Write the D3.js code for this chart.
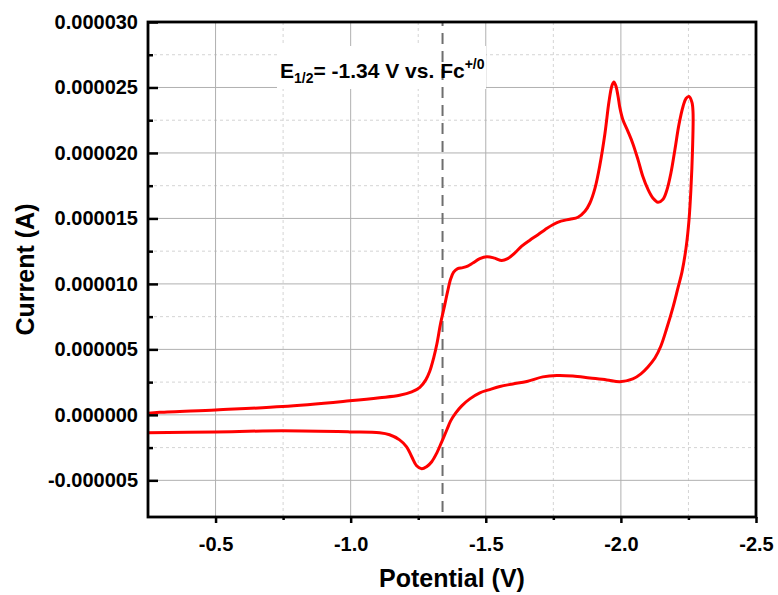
<!DOCTYPE html>
<html>
<head>
<meta charset="utf-8">
<script src="https://cdn.jsdelivr.net/npm/d3@7"></script>
<style>
  body { margin: 0; background: #fff; }
  text { font-family: Arial, "Liberation Sans", sans-serif; font-weight: bold; fill: #000; }
</style>
</head>
<body>
<svg id="chart" width="778" height="595"></svg>
<script>
// forward (cathodic) sweep, -0.25 V -> -2.27 V
var forwardPotential = [-0.25, -0.293, -0.5, -0.748, -0.996, -1.107, -1.181, -1.226, -1.256, -1.278,
  -1.293, -1.307, -1.319, -1.333, -1.348, -1.359, -1.37, -1.381, -1.396, -1.415,
  -1.433, -1.452, -1.478, -1.504, -1.533, -1.559, -1.581, -1.607, -1.633, -1.663,
  -1.693, -1.719, -1.748, -1.778, -1.811, -1.841, -1.867, -1.885, -1.904, -1.922,
  -1.941, -1.956, -1.967, -1.974, -1.981, -1.989, -1.996, -2.007, -2.026, -2.044,
  -2.063, -2.081, -2.1, -2.119, -2.137, -2.156, -2.17, -2.185, -2.2, -2.215,
  -2.23, -2.241, -2.252, -2.263, -2.267];
var forwardCurrent = [0.12e-6, 0.19e-6, 0.38e-6, 0.63e-6, 1.07e-6, 1.30e-6, 1.49e-6, 1.75e-6, 2.10e-6, 2.67e-6,
  3.35e-6, 4.34e-6, 5.41e-6, 7.01e-6, 8.38e-6, 9.45e-6, 10.37e-6, 10.90e-6, 11.17e-6, 11.24e-6,
  11.36e-6, 11.59e-6, 11.93e-6, 12.08e-6, 11.97e-6, 11.78e-6, 11.93e-6, 12.35e-6, 12.88e-6, 13.34e-6,
  13.76e-6, 14.14e-6, 14.52e-6, 14.79e-6, 14.94e-6, 15.09e-6, 15.55e-6, 16.16e-6, 17.30e-6, 19.05e-6,
  21.49e-6, 23.93e-6, 25.15e-6, 25.42e-6, 25.15e-6, 24.39e-6, 23.48e-6, 22.56e-6, 21.65e-6, 20.73e-6,
  19.51e-6, 18.22e-6, 17.23e-6, 16.54e-6, 16.23e-6, 16.46e-6, 17.15e-6, 18.45e-6, 20.27e-6, 22.18e-6,
  23.55e-6, 24.16e-6, 24.31e-6, 23.86e-6, 23.09e-6];

// reverse (anodic) sweep, back to -0.25 V
var reversePotential = [-2.267, -2.265, -2.259, -2.252, -2.241, -2.226, -2.211, -2.193, -2.17, -2.148,
  -2.126, -2.1, -2.074, -2.044, -1.996, -1.948, -1.885, -1.822, -1.763, -1.711,
  -1.652, -1.6, -1.552, -1.511, -1.478, -1.441, -1.411, -1.389, -1.37, -1.356,
  -1.337, -1.319, -1.3, -1.281, -1.263, -1.244, -1.226, -1.207, -1.181, -1.144,
  -1.107, -0.996, -0.748, -0.5, -0.25];
var reverseCurrent = [23.09e-6, 20.20e-6, 17.15e-6, 14.86e-6, 12.73e-6, 10.90e-6, 9.68e-6, 8.23e-6, 6.63e-6, 5.26e-6,
  4.34e-6, 3.66e-6, 3.13e-6, 2.74e-6, 2.52e-6, 2.67e-6, 2.82e-6, 2.97e-6, 3.01e-6, 2.90e-6,
  2.55e-6, 2.36e-6, 2.17e-6, 1.91e-6, 1.68e-6, 1.22e-6, 0.69e-6, 0.15e-6, -0.46e-6, -1.14e-6,
  -2.06e-6, -2.90e-6, -3.58e-6, -3.96e-6, -4.12e-6, -3.89e-6, -3.20e-6, -2.44e-6, -1.91e-6, -1.52e-6,
  -1.37e-6, -1.30e-6, -1.22e-6, -1.30e-6, -1.37e-6];

var xTicks = [-0.5, -1.0, -1.5, -2.0, -2.5];
var xMinor = [-0.75, -1.25, -1.75, -2.25];
var yTicks = [-0.000005, 0, 0.000005, 0.00001, 0.000015, 0.00002, 0.000025, 0.00003];
var yMinor = [-0.0000025, 0.0000025, 0.0000075, 0.0000125, 0.0000175, 0.0000225, 0.0000275];
var halfWave = -1.34;

var svg = d3.select("#chart");

var margins = { top: 22, bottom: 78, left: 148, right: 22 },
    width = 778 - margins.left - margins.right,
    height = 595 - margins.top - margins.bottom;

var x = d3.scaleLinear().domain([-0.25, -2.5]).range([0, width]);
var y = d3.scaleLinear().domain([-0.0000078, 0.00003]).range([height, 0]);

// plain hyphen for negatives, like the original
function hyphen(fmt) {
    var f = d3.format(fmt);
    return function(d) { return f(d).replace("\u2212", "-"); };
}

var g = svg.append("g")
    .attr("transform", "translate(" + margins.left + "," + margins.top + ")");

// grid
g.selectAll(".vminor").data(xMinor).enter().append("line")
    .attr("x1", function(d) { return x(d); }).attr("x2", function(d) { return x(d); })
    .attr("y1", 0).attr("y2", height)
    .attr("stroke", "#d4d4d4").attr("stroke-dasharray", "3,3");
g.selectAll(".hminor").data(yMinor).enter().append("line")
    .attr("x1", 0).attr("x2", width)
    .attr("y1", function(d) { return y(d); }).attr("y2", function(d) { return y(d); })
    .attr("stroke", "#d4d4d4").attr("stroke-dasharray", "3,3");
g.selectAll(".vmajor").data(xTicks).enter().append("line")
    .attr("x1", function(d) { return x(d); }).attr("x2", function(d) { return x(d); })
    .attr("y1", 0).attr("y2", height)
    .attr("stroke", "#b0b0b0");
g.selectAll(".hmajor").data(yTicks).enter().append("line")
    .attr("x1", 0).attr("x2", width)
    .attr("y1", function(d) { return y(d); }).attr("y2", function(d) { return y(d); })
    .attr("stroke", "#b0b0b0");

// white box behind the label
g.append("rect")
    .attr("x", 129).attr("y", 24)
    .attr("width", 209).attr("height", 43)
    .attr("fill", "#fff");

// E1/2 marker
g.append("line")
    .attr("x1", x(halfWave)).attr("x2", x(halfWave))
    .attr("y1", 0).attr("y2", height)
    .attr("stroke", "#6e6e6e").attr("stroke-width", 2)
    .attr("stroke-dasharray", "11,7")
    .attr("stroke-dashoffset", -11);

var label = g.append("text")
    .attr("x", 132).attr("y", 56)
    .style("font-size", "21px");
label.append("tspan").text("E");
label.append("tspan").attr("dy", 5).style("font-size", "14px").text("1/2");
label.append("tspan").attr("dy", -5).text("= -1.34 V vs. Fc");
label.append("tspan").attr("dy", -9).style("font-size", "14px").text("+/0");

// curve
var line = d3.line()
    .x(function(d) { return x(d[0]); })
    .y(function(d) { return y(d[1]); })
    .curve(d3.curveCatmullRom.alpha(0.5));

var forward = forwardPotential.map(function(v, i) { return [v, forwardCurrent[i]]; });
var reverse = reversePotential.map(function(v, i) { return [v, reverseCurrent[i]]; });

g.append("clipPath").attr("id", "clip")
    .append("rect").attr("width", width).attr("height", height);

g.append("path")
    .datum(forward.concat(reverse.slice(1)))
    .attr("clip-path", "url(#clip)")
    .attr("fill", "none")
    .attr("stroke", "#ff0000")
    .attr("stroke-width", 3)
    .attr("stroke-linejoin", "round")
    .attr("d", line);

// axes
var xAxis = g.append("g")
    .attr("transform", "translate(0," + height + ")")
    .call(d3.axisBottom(x).tickValues(xTicks).tickSize(6).tickPadding(14).tickFormat(hyphen(".1f")));
xAxis.select(".domain").remove();
xAxis.selectAll(".tick line").attr("stroke-width", 2.5);
xAxis.selectAll("text").style("font-size", "20px");

g.append("g")
    .attr("transform", "translate(0," + height + ")")
    .call(d3.axisBottom(x).tickValues(xMinor).tickSize(3).tickFormat(""))
    .call(function(s) { s.select(".domain").remove(); s.selectAll("line").attr("stroke-width", 2.5); });

var yAxis = g.append("g")
    .call(d3.axisLeft(y).tickValues(yTicks).tickSize(-10).tickPadding(12).tickFormat(hyphen(".6f")));
yAxis.select(".domain").remove();
yAxis.selectAll(".tick line").attr("stroke-width", 2.5);
yAxis.selectAll("text").style("font-size", "20px").attr("x", -10);

g.append("g")
    .call(d3.axisLeft(y).tickValues(yMinor).tickSize(-5).tickFormat(""))
    .call(function(s) { s.select(".domain").remove(); s.selectAll("line").attr("stroke-width", 2.5); });

// frame
g.append("rect")
    .attr("width", width).attr("height", height)
    .attr("fill", "none").attr("stroke", "#000").attr("stroke-width", 2.8);

// axis titles
svg.append("text")
    .attr("x", margins.left + width / 2).attr("y", 587)
    .attr("text-anchor", "middle")
    .style("font-size", "25px")
    .text("Potential (V)");

svg.append("text")
    .attr("transform", "translate(34," + (margins.top + height / 2) + ") rotate(-90)")
    .attr("text-anchor", "middle")
    .style("font-size", "25px")
    .text("Current (A)");
</script>
</body>
</html>
